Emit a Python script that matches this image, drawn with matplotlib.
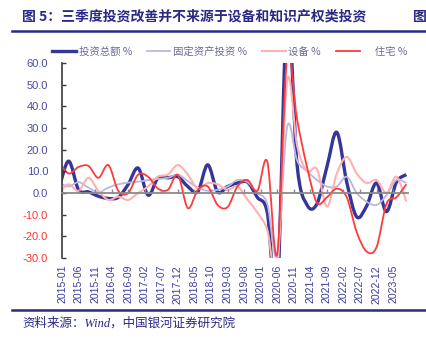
#!/usr/bin/env python3
import numpy as np
import pandas as pd
import matplotlib
matplotlib.use('Agg')
import matplotlib.pyplot as plt
from matplotlib.path import Path
from matplotlib.patches import PathPatch
from matplotlib.lines import Line2D

# quarterly, dated at quarter end (2014Q4 .. 2023Q3), annualised q/q %
quarters = pd.date_range('2014-12-01', '2023-09-01', freq='3MS')
total_inv = [1.5, 14.7, 1.5, 0.5, -1.5, -2.5, -2, 4, 11.5, -1, 7, 7,
             7.5, 3, 0.6, 13, 0.5, 3, 4.6, 5, -2, -9, -46, 85,
             13, -5.5, -5, 12, 28, 5, -11, -6, 4.6, -8.6, 5, 8.5]
fixed_inv = [5, 3, 5, 2.5, 0.3, 2.5, 4, 4.8, 5.2, 6, 6.5, 7,
             8.5, 5.5, 2.5, 1, 1.5, 3, 6, 5, 0, -5, -29, 30.5,
             15, 10, 6, 3, 3, 7.5, 0, -4, -5.5, -1, 6, 4.6]
equipment = [0, 4, 1, 7, 1, -3.2, -1.7, -3.2, 0, 3, 7.5, 8.5,
             12.9, 8.5, 2, 4.6, 4, 1.4, 3, -3, -9, -17, -36, 52,
             22, 10, 11, -6.3, 9, 16.7, 9, 4.6, 6, 0, 7.5, -4]
housing = [14.5, 9, 12, 12.5, 7, 12.9, 1, 0, 8.5, 7.5, 2, 1.5,
           8.3, -7, 1.4, 3, -5.5, -6.5, 3, 6, 1, 14.5, -28, 63,
           34, 12, -4.5, -2, 2, -2, -18, -27, -25, -5, -2, 4]

tick_labels = ['2015-01', '2015-06', '2015-11', '2016-04', '2016-09', '2017-02',
               '2017-07', '2017-12', '2018-05', '2018-10', '2019-03', '2019-08',
               '2020-01', '2020-06', '2020-11', '2021-04', '2021-09', '2022-02',
               '2022-07', '2022-12', '2023-05']

series = [('投资总额 %', total_inv, '#35359a', 2.4),
          ('固定资产投资 %', fixed_inv, '#b8b8e0', 1.3),
          ('设备 %', equipment, '#ffb0b0', 1.5),
          ('\u3000 住宅 %', housing, '#ff3a3a', 1.3)]

navy = '#2a2a86'
cjk = ['Noto Sans CJK SC', 'DejaVu Sans']
plt.rcParams['font.family'] = ['Liberation Sans', 'Noto Sans CJK SC']


def months(d):
    # months since 2015-01
    d = pd.DatetimeIndex(d)
    return (d.year - 2015) * 12 + (d.month - 1)


def smooth_path(x, y):
    # Catmull-Rom curve through the points, as cubic bezier segments
    x = np.asarray(x, float)
    y = np.asarray(y, float)
    pts = np.column_stack([x, y])
    ext = np.vstack([pts[0], pts, pts[-1]])
    verts = [pts[0]]
    codes = [Path.MOVETO]
    for i in range(len(pts) - 1):
        p0, p1, p2, p3 = ext[i], ext[i + 1], ext[i + 2], ext[i + 3]
        verts += [p1 + (p2 - p0) / 6, p2 - (p3 - p1) / 6, p2]
        codes += [Path.CURVE4] * 3
    return Path(verts, codes)


fig = plt.figure(figsize=(4.27, 3.38), dpi=100)
ax = fig.add_axes([62 / 427, 80 / 338, 346 / 427, 195 / 338])

xm = months(quarters)
for label, vals, color, lw in series:
    patch = PathPatch(smooth_path(xm, vals), fill=False, edgecolor=color,
                      lw=lw, transform=ax.transData, capstyle='butt',
                      joinstyle='round')
    ax.add_patch(patch)

ax.set_xlim(0, 104.5)
ax.set_ylim(-30, 60)

# zero line carries the month ticks
tick_pos = months(pd.to_datetime(tick_labels))
ax.spines['bottom'].set_position(('data', 0))
ax.spines['bottom'].set_color('#8a8a8a')
ax.spines['bottom'].set_linewidth(1.3)
ax.set_xticks(tick_pos)
ax.tick_params(axis='x', direction='in', length=3, width=1, color='#8a8a8a',
               labelbottom=False)
for s in ['top', 'right']:
    ax.spines[s].set_visible(False)
ax.spines['left'].set_color('#3a3a3a')
ax.spines['left'].set_linewidth(1.2)

sec = ax.secondary_xaxis(0.0)
sec.set_xticks(tick_pos)
sec.set_xticklabels(tick_labels, rotation=90, fontsize=7.6, color='#3c3c9c')
sec.tick_params(length=0, pad=5)
sec.spines['bottom'].set_visible(False)

yt = np.arange(-30, 61, 10)
ax.set_yticks(yt)
ax.set_yticklabels(['%.1f' % v for v in yt], fontsize=8)
ax.tick_params(axis='y', direction='in', length=3, width=1, color='#3a3a3a',
               pad=10)
for lab, v in zip(ax.get_yticklabels(), yt):
    lab.set_color('#ff3333' if v < 0 else '#4a4aa2')

handles = [Line2D([], [], color=c, lw=lw) for _, _, c, lw in series]
fig.legend(handles, [s[0] for s in series], loc='center left',
           bbox_to_anchor=(52 / 427, 1 - 52 / 338), ncol=4, frameon=False,
           borderpad=0, borderaxespad=0, handlelength=2.3, handletextpad=0.25,
           columnspacing=1.4, prop={'family': cjk, 'size': 7.5},
           labelcolor='#6a6a9a')

# header and footer
fig.text(22 / 427, 1 - 17 / 338, '图 5：三季度投资改善并不来源于设备和知识产权类投资',
         family=cjk, fontsize=10, fontweight='bold', color=navy, va='center')
fig.text(413 / 427, 1 - 17 / 338, '图', family=cjk, fontsize=10,
         fontweight='bold', color=navy, va='center')
fig.add_artist(Line2D([12 / 427, 1], [1 - 31 / 338] * 2, color=navy, lw=1.8))
fig.add_artist(Line2D([12 / 427, 1], [1 - 310 / 338] * 2, color=navy, lw=1.8))
fig.text(22 / 427, 1 - 323 / 338, '资料来源：Wind，中国银河证券研究院',
         family=['Liberation Serif', 'Noto Sans CJK SC'], style='italic',
         fontsize=9, color=navy, va='center')

fig.savefig('out.png', dpi=100)
